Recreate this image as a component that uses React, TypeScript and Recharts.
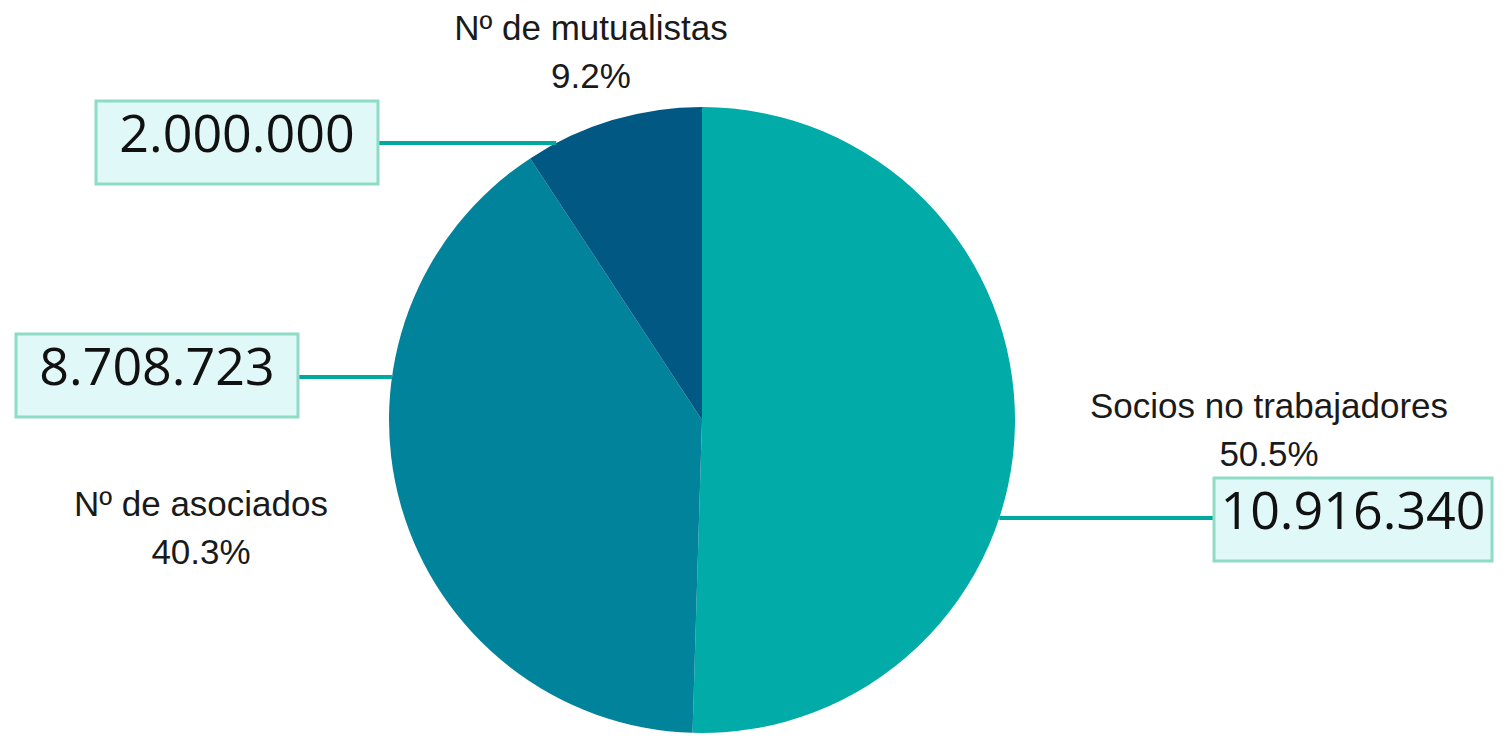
import React from 'react';
import { PieChart, Pie, Cell } from 'recharts';

// Data
const NAMES = ['Socios no trabajadores', 'Nº de asociados', 'Nº de mutualistas'];
const VALUES = [10916340, 8708723, 2000000];
const COLORS = ['#00aba8', '#00839b', '#005883'];

// Label layout, offsets from the pie centre
const LABEL_LAYOUT = [
    { lineDy: 98, boxX: 512, boxY: 58, boxW: 278, nameX: 567, nameY: -15 },
    { lineDy: -43, boxX: -686, boxY: -86, boxW: 282, nameX: -501, nameY: 83 },
    { lineDy: -277, boxX: -606, boxY: -319, boxW: 282, nameX: -111, nameY: -393 },
];

const BOX_H = 83;
const LINE_COLOR = '#00a99d';

const data = NAMES.map((name, i) => ({ name, value: VALUES[i] }));

const fmt = (n: number) => String(n).replace(/\B(?=(\d{3})+(?!\d))/g, '.');

const renderLabel = (props: any) => {
    const { cx, cy, outerRadius, index, percent, value } = props;
    const l = LABEL_LAYOUT[index];
    const ly = cy + l.lineDy;
    const half = Math.sqrt(outerRadius * outerRadius - l.lineDy * l.lineDy);
    const rightSide = l.boxX > 0;
    const edgeX = rightSide ? cx + half : cx - half;
    const bx = cx + l.boxX;
    const by = cy + l.boxY;
    const boxEdge = rightSide ? bx : bx + l.boxW;
    return (
        <g>
            <line x1={edgeX} y1={ly} x2={boxEdge} y2={ly} stroke={LINE_COLOR} strokeWidth={4} />
            <rect x={bx} y={by} width={l.boxW} height={BOX_H} fill="#e0f8f7" stroke="#8edcc6" strokeWidth={3} />
            <text
                x={bx + l.boxW / 2}
                y={by + 51}
                textAnchor="middle"
                fontFamily="'Open Sans', sans-serif"
                fontSize={52}
                fill="#111"
            >
                {fmt(value)}
            </text>
            <text
                x={cx + l.nameX}
                y={cy + l.nameY}
                textAnchor="middle"
                dominantBaseline="central"
                fontFamily="'Liberation Sans', Arial, sans-serif"
                fontSize={35}
                fill="#1a1a1a"
            >
                {NAMES[index]}
            </text>
            <text
                x={cx + l.nameX}
                y={cy + l.nameY + 48}
                textAnchor="middle"
                dominantBaseline="central"
                fontFamily="'Liberation Sans', Arial, sans-serif"
                fontSize={35}
                fill="#1a1a1a"
            >
                {(percent * 100).toFixed(1) + '%'}
            </text>
        </g>
    );
};

export default function App() {
    return (
        <div style={{ position: 'absolute', left: 0, top: 0, width: 1506, height: 736, background: '#fff' }}>
            <PieChart width={1506} height={736} margin={{ top: 0, right: 0, bottom: 0, left: 0 }}>
                <Pie
                    data={data}
                    dataKey="value"
                    nameKey="name"
                    cx={702}
                    cy={420}
                    outerRadius={313}
                    startAngle={90}
                    endAngle={-270}
                    stroke="none"
                    labelLine={false}
                    label={renderLabel}
                    isAnimationActive={false}
                >
                    {data.map((d, i) => (
                        <Cell key={d.name} fill={COLORS[i]} />
                    ))}
                </Pie>
            </PieChart>
        </div>
    );
}
